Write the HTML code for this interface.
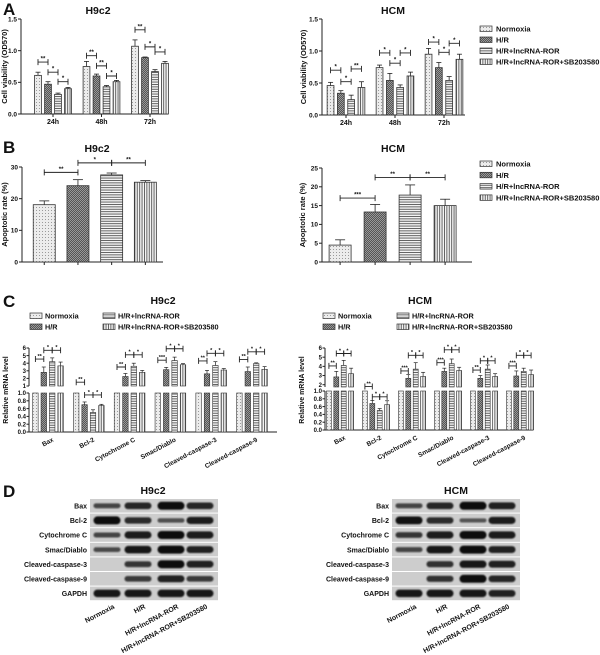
<!DOCTYPE html>
<html><head><meta charset="utf-8"><style>
html,body{margin:0;padding:0;background:#fff;}
svg{display:block;font-family:"Liberation Sans",Arial,sans-serif;font-weight:bold;}
</style></head><body>
<svg id="fig" width="600" height="655" viewBox="0 0 600 655" xmlns="http://www.w3.org/2000/svg">
<defs>
<pattern id="pNorm" width="3" height="3" patternUnits="userSpaceOnUse"><rect width="3" height="3" fill="#ececec"/><rect width="1" height="1" fill="#9a9a9a"/></pattern>
<pattern id="pHR" width="2" height="2" patternUnits="userSpaceOnUse"><rect width="2" height="2" fill="#555"/><rect width="1" height="1" fill="#999"/><rect x="1" y="1" width="1" height="1" fill="#999"/></pattern>
<pattern id="pLnc" width="3" height="2.4" patternUnits="userSpaceOnUse"><rect width="3" height="2.4" fill="#f4f4f4"/><rect width="3" height="0.9" fill="#555"/></pattern>
<pattern id="pSB" width="2.4" height="3" patternUnits="userSpaceOnUse"><rect width="2.4" height="3" fill="#f4f4f4"/><rect width="0.9" height="3" fill="#555"/></pattern>
<filter id="blur" x="-20%" y="-50%" width="140%" height="200%"><feGaussianBlur stdDeviation="0.7"/></filter>
</defs>
<g id="root"></g>
</svg>
<script>
// ---------- data ----------
const groupNames = ['Normoxia','H/R','H/R+lncRNA-ROR','H/R+lncRNA-ROR+SB203580'];
const timeCats = ['24h','48h','72h'];
const aH9Norm = [0.61,0.75,1.07];
const aH9HR   = [0.47,0.60,0.89];
const aH9Lnc  = [0.31,0.43,0.67];
const aH9SB   = [0.40,0.51,0.80];
const aH9Err  = [[0.05,0.08,0.10],[0.04,0.03,0.01],[0.02,0.02,0.03],[0.02,0.02,0.03]];
const aH9Brk  = [[0.82,0.66,0.51],[0.92,0.76,0.60],[1.33,1.06,0.98]];
const aH9BrkLbl = [['**','*','*'],['**','**','*'],['**','*','*']];
const aHCNorm = [0.46,0.74,0.95];
const aHCHR   = [0.34,0.54,0.74];
const aHCLnc  = [0.24,0.43,0.54];
const aHCSB   = [0.43,0.61,0.87];
const aHCErr  = [[0.05,0.04,0.09],[0.04,0.11,0.08],[0.07,0.04,0.06],[0.09,0.06,0.08]];
const aHCBrk  = [[0.70,0.52,0.72],[0.97,0.81,0.97],[1.14,0.98,1.12]];
const aHCBrkLbl = [['*','*','**'],['*','*','*'],['*','*','*']];
const bH9Vals = [18.1,24.1,27.5,25.2];
const bH9Err  = [1.2,1.9,0.6,0.5];
const bH9Brk  = [[0,1,28.3,'**'],[1,2,31.3,'*'],[2,3,31.3,'**']];
const bHCVals = [4.5,13.3,17.8,15.0];
const bHCErr  = [1.4,2.0,2.7,1.7];
const bHCBrk  = [[0,1,17.0,'***'],[1,2,22.5,'**'],[2,3,22.5,'**']];
const geneCats = ['Bax','Bcl-2','Cytochrome C','Smac/Diablo','Cleaved-caspase-3','Cleaved-caspase-9'];
const cH9Norm = [1,1,1,1,1,1];
const cH9HR   = [2.8,0.70,2.25,3.15,2.6,2.9];
const cH9Lnc  = [4.2,0.50,3.6,4.35,3.7,3.95];
const cH9SB   = [3.65,0.68,2.8,3.8,3.1,3.2];
const cH9Err  = [[0,0,0,0,0,0],[0.7,0.07,0.4,0.3,0.45,0.6],[0.5,0.07,0.4,0.45,0.5,0.1],[0.5,0.03,0.25,0.15,0.2,0.35]];
const cH9Brk  = [[4.55,5.7,5.7],[1.5,0.95,0.95],[3.5,5.1,5.1],[4.4,5.9,5.9],[4.3,5.3,5.3],[4.5,5.5,5.5]];
const cH9BrkLbl = [['**','*','*'],['**','*','*'],['**','*','*'],['***','*','*'],['**','*','*'],['**','*','*']];
const cHCNorm = [1,1,1,1,1,1];
const cHCHR   = [2.85,0.68,2.7,3.45,2.7,2.95];
const cHCLnc  = [4.1,0.50,3.7,4.3,3.7,3.45];
const cHCSB   = [3.2,0.65,2.9,3.55,2.9,3.1];
const cHCErr  = [[0,0,0,0,0,0],[0.6,0.08,0.4,0.35,0.3,0.55],[0.55,0.05,0.7,0.5,0.45,0.35],[0.6,0.1,0.45,0.35,0.3,0.5]];
const cHCBrk  = [[4.05,5.4,5.4],[1.8,0.85,0.85],[3.5,5.2,5.2],[4.4,5.8,5.8],[3.6,4.6,4.6],[4.05,5.2,5.2]];
const cHCBrkLbl = [['**','*','*'],['**','*','*'],['***','*','*'],['***','*','*'],['**','*','*'],['***','*','*']];
const blotRows = ['Bax','Bcl-2','Cytochrome C','Smac/Diablo','Cleaved-caspase-3','Cleaved-caspase-9','GAPDH'];
const dH9Bands = [[0.45,0.75,1,0.75],[1,0.7,0.35,0.85],[0.45,0.85,1,0.85],[0.4,0.9,1,0.8],[0,0.6,1,0.8],[0,0.55,0.8,0.55],[0.9,0.9,0.9,0.9]];
const dHCBands = [[0.45,0.75,1,0.8],[0.95,0.7,0.3,0.85],[0.6,0.85,1,0.85],[0.45,0.9,1,0.8],[0,0.65,0.9,0.8],[0,0.65,1,0.75],[0.9,0.9,0.9,0.8]];

const fills = ['url(#pNorm)','url(#pHR)','url(#pLnc)','url(#pSB)'];
const root = document.getElementById('root');
const NS = 'http://www.w3.org/2000/svg';
function mk(tag, attrs, parent){ const e=document.createElementNS(NS,tag); for(const k in attrs) e.setAttribute(k,attrs[k]); (parent||root).appendChild(e); return e; }
function txt(x,y,s,size,anchor,parent,extra){ const t=mk('text',Object.assign({x:x,y:y,'font-size':size,'text-anchor':anchor||'middle',fill:'#111'},extra||{}),parent); t.textContent=s; return t; }

function barChart(cfg){
  const g = mk('g',{});
  
  
  const ys = v => cfg.yBot - (v - 0)/(cfg.yMax)*(cfg.yBot - cfg.yTop);
  const bx = (gi,si) => cfg.c0 + gi*cfg.gsp + (si-1.5)*cfg.pitch;
  const ya = mk('line',{x1:cfg.x0,y1:cfg.yTop,x2:cfg.x0,y2:cfg.yBot,stroke:'#222','stroke-width':1},g);
  
  
  const xa = mk('line',{x1:cfg.x0,y1:cfg.yBot,x2:cfg.x1,y2:cfg.yBot,stroke:'#222','stroke-width':1},g);
  
  
  cfg.ticks.forEach((t,i)=>{
    mk('line',{x1:cfg.x0-3,y1:ys(t),x2:cfg.x0,y2:ys(t),stroke:'#222'},g);
    const tl = txt(cfg.x0-4,ys(t)+2.3,cfg.tickLbl[i],6.5,'end',g);
    
    
  });
  const yt = txt(0,0,cfg.ytitle,7.5,'middle',g,{transform:`translate(${cfg.ytx},${(cfg.yTop+cfg.yBot)/2}) rotate(-90)`});
  
  
  const tt = txt(cfg.titleX,cfg.titleY,cfg.title,10.5,'middle',g);
  
  
  cfg.series.forEach((ser,si)=>{
    ser.forEach((v,gi)=>{
      const cx=bx(gi,si), e=cfg.errs[si][gi];
      mk('line',{x1:cx,y1:ys(v),x2:cx,y2:ys(v+e),stroke:'#222','stroke-width':0.8},g);
      mk('line',{x1:cx-cfg.cap,y1:ys(v+e),x2:cx+cfg.cap,y2:ys(v+e),stroke:'#222','stroke-width':0.8},g);
      const r = mk('rect',{x:cx-cfg.bw/2,y:ys(v),width:cfg.bw,height:cfg.yBot-ys(v),fill:fills[si],stroke:'#333','stroke-width':0.8},g);
      
      
    });
  });
  if(cfg.cats){ cfg.cats.forEach((c,gi)=>{
    const cx=cfg.c0+gi*cfg.gsp;
    mk('line',{x1:cx,y1:cfg.yBot,x2:cx,y2:cfg.yBot+3,stroke:'#222'},g);
    const cl=txt(cx,cfg.yBot+10,c,7,'middle',g);
    
    
  }); } else {
    for(let si=0;si<4;si++) mk('line',{x1:bx(0,si),y1:cfg.yBot,x2:bx(0,si),y2:cfg.yBot+3,stroke:'#222'},g);
  }
  cfg.brackets.forEach(b=>{
    const [gi,i,j,lev,lab]=b, y=ys(lev), xa1=bx(gi,i), xa2=bx(gi,j);
    const br = mk('path',{d:`M${xa1},${y+3}V${y}H${xa2}V${y+3}M${xa1},${y-3}V${y}M${xa2},${y-3}V${y}`,stroke:'#222','stroke-width':0.9,fill:'none'},g);
    
    
    txt((xa1+xa2)/2,y-1.5,lab,6,'middle',g);
  });
}
function legend(x,y,dy,name){
  const g=mk('g',{});
  
  
  groupNames.forEach((n,i)=>{
    const e=mk('g',{},g);
    
    
    mk('rect',{x:x,y:y+i*dy-3,width:12,height:5.5,fill:fills[i],stroke:'#333','stroke-width':0.7},e);
    txt(x+16,y+i*dy+2.5,n,7.5,'start',e);
  });
}
function brList(levels, labels){ const out=[]; levels.forEach((lv,gi)=>{ lv.forEach((l,k)=>out.push([gi,k,k+1,l,labels[gi][k]])); }); return out; }

['A','B','C','D'].forEach((L,i)=>{
  const t=txt(3,[15,153,307,497][i],L,17,'start');
  
  
});

barChart({name:'chart-a-h9c2',x0:21,x1:168,yTop:19,yBot:114,yMax:1.5,ticks:[0,0.5,1,1.5],tickLbl:['0.0','0.5','1.0','1.5'],
  ytitle:'Cell  viability (OD570)',ytx:7,title:'H9c2',titleX:98,titleY:14,c0:53,gsp:48.5,pitch:10,bw:6.8,cap:2.5,
  series:[aH9Norm,aH9HR,aH9Lnc,aH9SB],errs:aH9Err,cats:timeCats,brackets:brList(aH9Brk,aH9BrkLbl)});
barChart({name:'chart-a-hcm',x0:322,x1:465,yTop:19,yBot:115,yMax:1.5,ticks:[0,0.5,1,1.5],tickLbl:['0.0','0.5','1.0','1.5'],
  ytitle:'Cell  viability (OD570)',ytx:306,title:'HCM',titleX:393,titleY:14,c0:346,gsp:49,pitch:10.3,bw:6.8,cap:2.5,
  series:[aHCNorm,aHCHR,aHCLnc,aHCSB],errs:aHCErr,cats:timeCats,brackets:brList(aHCBrk,aHCBrkLbl)});
legend(480,29,11,'legend-a');

function oneGroup(v){ return v.map(x=>[x]); }
barChart({name:'chart-b-h9c2',x0:22,x1:163,yTop:167,yBot:262,yMax:30,ticks:[0,10,20,30],tickLbl:['0','10','20','30'],
  ytitle:'Apoptotic rate (%)',ytx:7,title:'H9c2',titleX:97,titleY:152,c0:94.8,gsp:0,pitch:33.7,bw:22,cap:5,
  series:oneGroup(bH9Vals),errs:oneGroup(bH9Err),cats:null,brackets:bH9Brk.map(b=>[0,b[0],b[1],b[2],b[3]])});
barChart({name:'chart-b-hcm',x0:322,x1:472,yTop:168,yBot:262,yMax:25,ticks:[0,5,10,15,20,25],tickLbl:['0','5','10','15','20','25'],
  ytitle:'Apoptotic rate (%)',ytx:305,title:'HCM',titleX:393,titleY:152,c0:392.6,gsp:0,pitch:35,bw:22,cap:5,
  series:oneGroup(bHCVals),errs:oneGroup(bHCErr),cats:null,brackets:bHCBrk.map(b=>[0,b[0],b[1],b[2],b[3]])});
legend(480,164,11.3,'legend-b');

function brokenChart(cfg){
  const g=mk('g',{});
  
  
  const yl = v => cfg.y0 - v*(cfg.y0-cfg.y1l);
  const yu = v => cfg.yub - (v-cfg.umin)/(6-cfg.umin)*(cfg.yub-cfg.y6);
  const yv = v => v<=1 ? yl(v) : yu(v);
  const bx = (gi,si) => cfg.c0 + gi*cfg.gsp + (si-1.5)*cfg.pitch;
  mk('line',{x1:cfg.x0,y1:cfg.y6,x2:cfg.x0,y2:cfg.yub,stroke:'#222'},g);
  mk('line',{x1:cfg.x0,y1:cfg.y1l,x2:cfg.x0,y2:cfg.y0,stroke:'#222'},g);
  const xa=mk('line',{x1:cfg.x0,y1:cfg.y0,x2:cfg.x1,y2:cfg.y0,stroke:'#222'},g);
  
  
  [0,0.2,0.4,0.6,0.8,1.0].forEach(t=>{ mk('line',{x1:cfg.x0-2.5,y1:yl(t),x2:cfg.x0,y2:yl(t),stroke:'#222'},g); txt(cfg.x0-3,yl(t)+2.2,t.toFixed(1),6,'end',g); });
  cfg.uticks.forEach(t=>{ mk('line',{x1:cfg.x0-2.5,y1:yu(t),x2:cfg.x0,y2:yu(t),stroke:'#222'},g); txt(cfg.x0-3,yu(t)+2.2,String(t),6,'end',g); });
  const yt=txt(0,0,'Relative mRNA level',7,'middle',g,{transform:`translate(${cfg.ytx},390) rotate(-90)`});
  
  
  const tt=txt(cfg.titleX,304,cfg.title,10.5,'middle',g);
  
  
  cfg.series.forEach((ser,si)=>{ ser.forEach((v,gi)=>{
    const cx=bx(gi,si), e=cfg.errs[si][gi], lo=Math.min(v,1);
    if(e>0){ mk('line',{x1:cx,y1:yv(v),x2:cx,y2:yv(v+e),stroke:'#222','stroke-width':0.7},g); mk('line',{x1:cx-2,y1:yv(v+e),x2:cx+2,y2:yv(v+e),stroke:'#222','stroke-width':0.7},g); }
    const r=mk('rect',{x:cx-cfg.bw/2,y:yl(lo),width:cfg.bw,height:cfg.y0-yl(lo),fill:fills[si],stroke:'#333','stroke-width':0.6},g);
    
    
    if(v>1){ const r2=mk('rect',{x:cx-cfg.bw/2,y:yu(v),width:cfg.bw,height:Math.max(0,cfg.yub-yu(v)),fill:fills[si],stroke:'#333','stroke-width':0.6},g);
      
       }
  }); });
  cfg.cats.forEach((c,gi)=>{ const cx=cfg.c0+gi*cfg.gsp;
    const cl=txt(0,0,c,6.5,'end',g,{transform:`translate(${cx+6},${cfg.y0+9}) rotate(-28)`});
    
     });
  cfg.brk.forEach((lv,gi)=>lv.forEach((l,k)=>{
    const y=yv(l), a=bx(gi,k), b=bx(gi,k+1);
    const br=mk('path',{d:`M${a},${y-3}V${y+3}M${a},${y}H${b}M${b},${y-3}V${y+3}`,stroke:'#222','stroke-width':0.9,fill:'none'},g);
    
    
    txt((a+b)/2,y-1.2,cfg.brkLbl[gi][k],5.5,'middle',g);
  }));
}
function legendC(x1,x2,name){
  const g=mk('g',{});
  
  
  const pos=[[x1,316],[x1,327],[x2,316],[x2,327]];
  groupNames.forEach((n,i)=>{ const e=mk('g',{},g);
    
    
    mk('rect',{x:pos[i][0],y:pos[i][1]-3,width:12,height:5.5,fill:fills[i],stroke:'#333','stroke-width':0.7},e);
    txt(pos[i][0]+15,pos[i][1]+2.5,n,7.3,'start',e); });
}
brokenChart({name:'chart-c-h9c2',x0:29,x1:277,y0:432,y1l:393,yub:386,y6:348,umin:1,uticks:[1,2,3,4,5,6],ytx:8,title:'H9c2',titleX:163,
  c0:48,gsp:40.8,pitch:8.4,bw:5.5,series:[cH9Norm,cH9HR,cH9Lnc,cH9SB],errs:cH9Err,cats:geneCats,brk:cH9Brk,brkLbl:cH9BrkLbl});
brokenChart({name:'chart-c-hcm',x0:325,x1:533,y0:430,y1l:391,yub:387,y6:348,umin:1.75,uticks:[2,3,4,5,6],ytx:304,title:'HCM',titleX:420,
  c0:340,gsp:36,pitch:7.4,bw:5,series:[cHCNorm,cHCHR,cHCLnc,cHCSB],errs:cHCErr,cats:geneCats,brk:cHCBrk,brkLbl:cHCBrkLbl});
legendC(30,103,'legend-c-h9c2');
legendC(323,397,'legend-c-hcm');

function blot(x0,bands,title,titleX,name){
  const g=mk('g',{});
  
  
  const tt=txt(titleX,494,title,10.5,'middle',g);
  
  
  const lanes=[17,48,81,110];
  blotRows.forEach((r,ri)=>{
    const y=499+ri*14.6;
    const bg=mk('rect',{x:x0,y:y,width:128,height:13.6,fill:'#cdcdcd'},g);
    
    
    const lb=txt(x0-3,y+9.5,r,7,'end',g);
    
    
    bands[ri].forEach((v,li)=>{ if(v<=0) return;
      const h=2.5+5.5*v;
      const b=mk('rect',{x:x0+lanes[li]-13.5,y:y+6.8-h/2,width:27,height:h,rx:h/2,fill:'#111','fill-opacity':0.5+0.5*v,filter:'url(#blur)'},g);
      
      
    });
  });
  groupNames.forEach((n,li)=>{
    const lt=txt(0,0,n,7,'end',g,{transform:`translate(${x0+lanes[li]+8},${608}) rotate(-28)`});
    
    
  });
}
blot(90,dH9Bands,'H9c2',153,'blot-h9c2');
blot(392,dHCBands,'HCM',456,'blot-hcm');
</script>
</body></html>
